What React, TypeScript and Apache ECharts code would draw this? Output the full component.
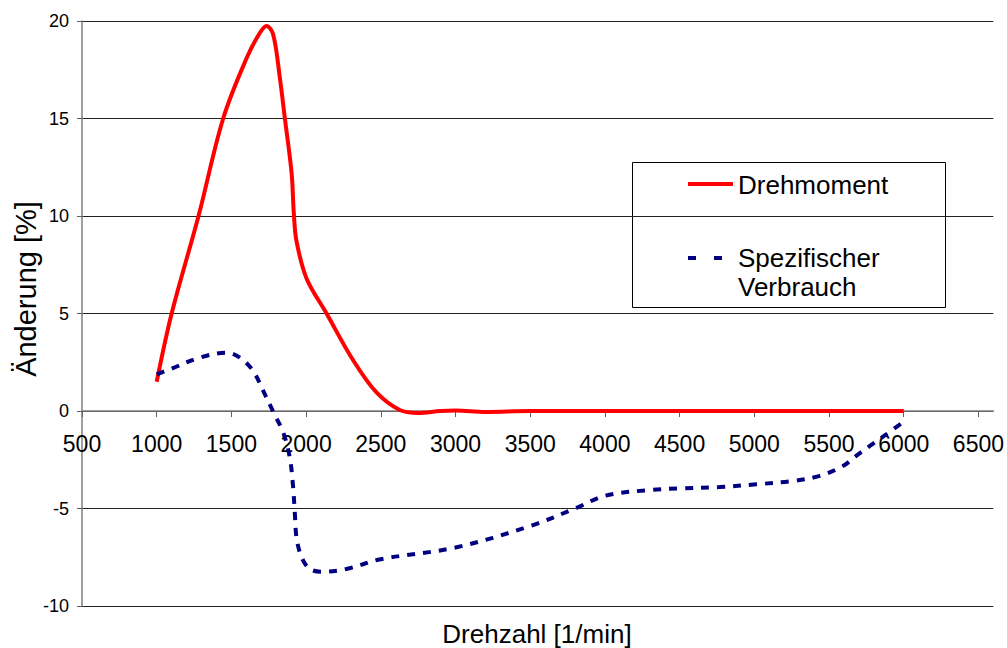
import React, { useEffect, useRef } from "react";
import * as echarts from "echarts";

const xTickValues = [500, 1000, 1500, 2000, 2500, 3000, 3500, 4000, 4500, 5000, 5500, 6000, 6500];

const drehmomentRpm = [1000, 1100, 1280, 1445, 1602, 1691, 1735, 1780, 1824, 1858, 1903, 1918, 1936, 2003, 2137, 2315, 2471, 2627, 2750, 2900, 3000, 3200, 3500, 4000, 4500, 5000, 5500, 6000];
const drehmomentVal = [1.5, 5.0, 10.0, 15.0, 18.1, 19.4, 19.75, 19.3, 17.1, 15.0, 12.2, 10.1, 8.7, 6.8, 5.0, 2.6, 0.95, 0.05, -0.1, 0, 0.02, -0.05, 0, 0, 0, 0, 0, 0];

const verbrauchRpm = [1000, 1089, 1289, 1468, 1557, 1646, 1713, 1790, 1847, 1891, 1913, 1925, 1936, 1970, 2025, 2114, 2270, 2500, 3000, 3500, 3800, 4000, 4300, 4500, 4768, 5013, 5258, 5437, 5593, 5682, 5771, 5883, 6000];
const verbrauchVal = [1.88, 2.14, 2.74, 2.99, 2.74, 2.05, 1.03, -0.2, -1.1, -2.4, -3.9, -5.3, -6.5, -7.5, -8.1, -8.24, -8.1, -7.6, -7.0, -5.9, -5.0, -4.35, -4.05, -3.97, -3.9, -3.76, -3.59, -3.33, -2.82, -2.3, -1.8, -1.2, -0.55];

const FONT = "Liberation Sans, Arial, sans-serif";

export default function App() {
  const ref = useRef<HTMLDivElement>(null);
  useEffect(() => {
    if (!ref.current) return;
    const chart = echarts.init(ref.current, null, { renderer: "svg" });
    const zip = (xs: number[], ys: number[]) => xs.map((x, i) => [x, ys[i]]);
    chart.setOption({
      animation: false,
      backgroundColor: "#ffffff",
      textStyle: { fontFamily: FONT },
      grid: { left: 82, right: 13, top: 21, bottom: 42, containLabel: false },
      xAxis: {
        type: "value",
        min: 500,
        max: 6600,
        interval: 500,
        offset: -195,
        axisLine: { onZero: false, lineStyle: { color: "#808080", width: 1.5 } },
        axisTick: { show: true, length: 6, customValues: xTickValues, lineStyle: { color: "#606060" } },
        axisLabel: { customValues: xTickValues, fontSize: 23, color: "#000", margin: 21, fontFamily: FONT, formatter: (v: number) => String(v) },
        splitLine: { show: false },
      },
      yAxis: {
        type: "value",
        min: -10,
        max: 20,
        interval: 5,
        axisLine: { show: true, onZero: false, lineStyle: { color: "#808080", width: 1.5 } },
        axisTick: { show: true, length: 5, lineStyle: { color: "#606060" } },
        axisLabel: { fontSize: 18, color: "#000", margin: 13, fontFamily: FONT, formatter: (v: number) => String(v) },
        splitLine: { show: true, lineStyle: { color: "#222", width: 1 } },
      },
      series: [
        {
          name: "Drehmoment",
          type: "line",
          data: zip(drehmomentRpm, drehmomentVal),
          smooth: 0.35,
          showSymbol: false,
          lineStyle: { color: "#ff0000", width: 4 },
          z: 3,
        },
        {
          name: "Spezifischer Verbrauch",
          type: "line",
          data: zip(verbrauchRpm, verbrauchVal),
          smooth: 0.35,
          showSymbol: false,
          lineStyle: { color: "#000080", width: 4, type: [8, 8] },
          z: 4,
        },
      ],
      graphic: [
        {
          type: "text",
          x: 537,
          y: 634,
          style: { text: "Drehzahl [1/min]", fontSize: 26, fontFamily: FONT, fill: "#000", align: "center", verticalAlign: "middle" },
        },
        {
          type: "text",
          x: 26,
          y: 289,
          rotation: Math.PI / 2,
          style: { text: "Änderung [%]", fontSize: 29, fontFamily: FONT, fill: "#000", align: "center", verticalAlign: "middle" },
        },
        {
          type: "group",
          z: 100,
          children: [
            { type: "rect", shape: { x: 632.5, y: 162.5, width: 313, height: 145 }, style: { fill: "#fff", stroke: "#000", lineWidth: 1 } },
            { type: "line", shape: { x1: 688, y1: 184, x2: 733, y2: 184 }, style: { stroke: "#ff0000", lineWidth: 4 } },
            { type: "text", x: 738, y: 185, style: { text: "Drehmoment", fontSize: 26, fontFamily: FONT, fill: "#000", verticalAlign: "middle" } },
            { type: "line", shape: { x1: 688, y1: 258, x2: 696, y2: 258 }, style: { stroke: "#000080", lineWidth: 4 } },
            { type: "line", shape: { x1: 714, y1: 258, x2: 722, y2: 258 }, style: { stroke: "#000080", lineWidth: 4 } },
            { type: "text", x: 738, y: 258, style: { text: "Spezifischer", fontSize: 26, fontFamily: FONT, fill: "#000", verticalAlign: "middle" } },
            { type: "text", x: 738, y: 287, style: { text: "Verbrauch", fontSize: 26, fontFamily: FONT, fill: "#000", verticalAlign: "middle" } },
          ],
        },
      ],
    });
    return () => chart.dispose();
  }, []);
  return <div ref={ref} style={{ position: "fixed", left: 0, top: 0, width: 1007, height: 648 }} />;
}
